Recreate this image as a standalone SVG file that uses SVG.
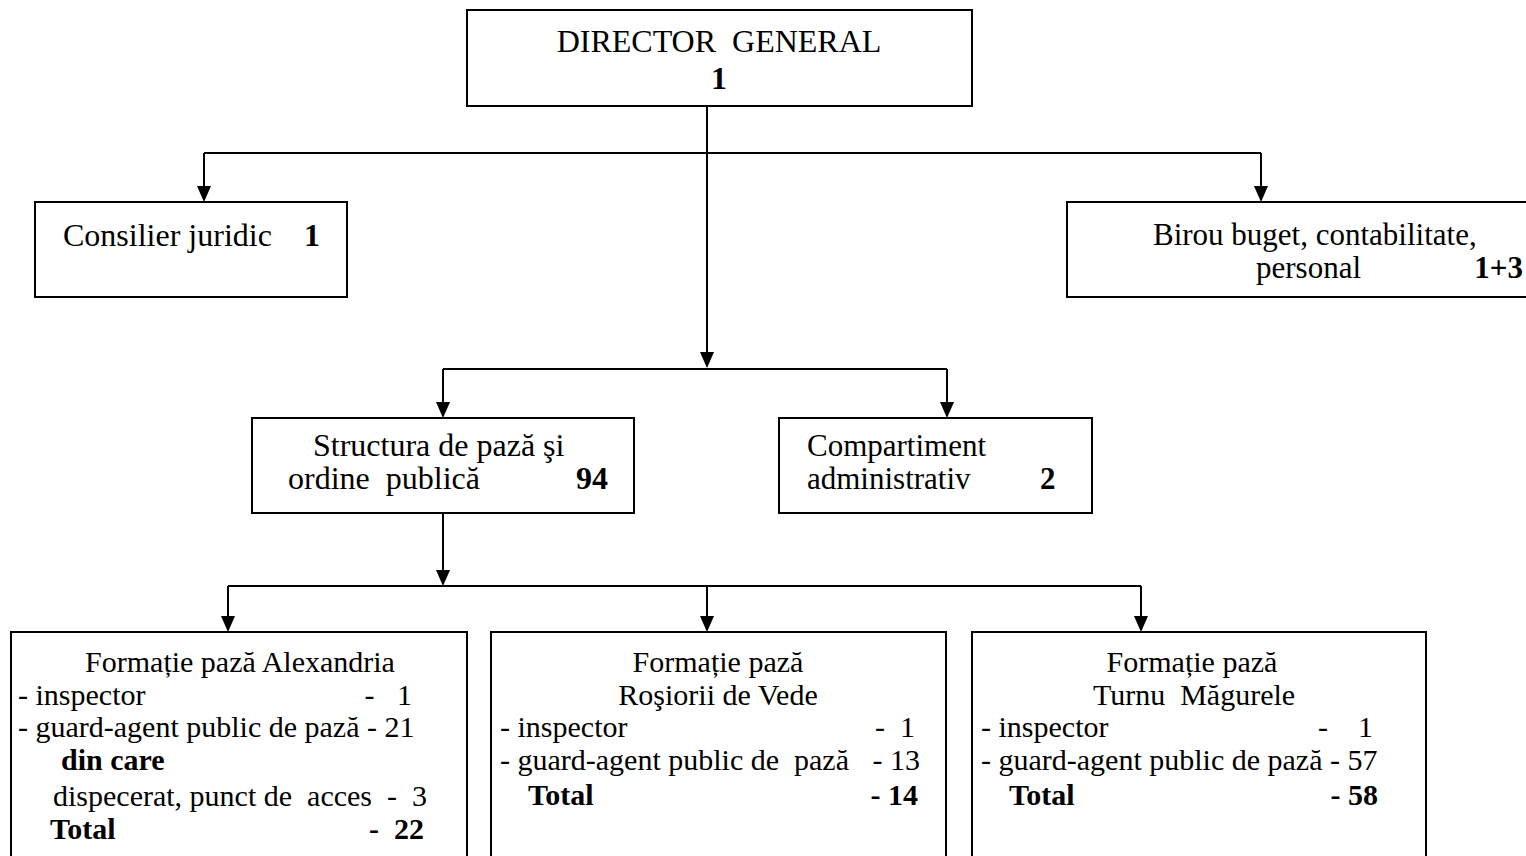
<svg xmlns="http://www.w3.org/2000/svg" width="1526" height="856" viewBox="0 0 1526 856">
<style>
.box{fill:#fff;stroke:#000;stroke-width:2}
.t{font-family:"Liberation Serif","Times New Roman",serif;font-size:30px;fill:#000}
.u{font-size:32px}
.b{font-weight:bold}
.c{text-anchor:middle}
.e{text-anchor:end}
.ln{fill:none;stroke:#000;stroke-width:2}
</style>
<rect width="1526" height="856" fill="#fff"/>
<g id="connectors">
<line class="ln" x1="707" y1="106" x2="707" y2="352"/>
<line class="ln" x1="204" y1="153" x2="1261" y2="153"/>
<line class="ln" x1="443" y1="369" x2="947" y2="369"/>
<line class="ln" x1="228" y1="586" x2="1141" y2="586"/>
<path class="ln" d="M204,153 V186"/>
<path class="ln" d="M1261,153 V186"/>
<path class="ln" d="M443,369 V402"/>
<path class="ln" d="M947,369 V402"/>
<path class="ln" d="M443,513 V570"/>
<path class="ln" d="M228,586 V616"/>
<path class="ln" d="M707,586 V616"/>
<path class="ln" d="M1141,586 V616"/>
<g fill="#000">
<path d="M700,352 L714,352 L707,368 Z"/>
<path d="M197,186 L211,186 L204,202 Z"/>
<path d="M1254,186 L1268,186 L1261,202 Z"/>
<path d="M436,402 L450,402 L443,418 Z"/>
<path d="M940,402 L954,402 L947,418 Z"/>
<path d="M436,570 L450,570 L443,586 Z"/>
<path d="M221,616 L235,616 L228,632 Z"/>
<path d="M700,616 L714,616 L707,632 Z"/>
<path d="M1134,616 L1148,616 L1141,632 Z"/>
</g>
</g>
<g id="director">
<rect class="box" x="467" y="10" width="505" height="96"/>
<text class="t u c" x="719" y="52" xml:space="preserve">DIRECTOR  GENERAL</text>
<text class="t u b c" x="719" y="89">1</text>
</g>
<g id="consilier">
<rect class="box" x="35" y="202" width="312" height="95"/>
<text class="t u" x="63" y="246">Consilier juridic</text>
<text class="t u b" x="304" y="246">1</text>
</g>
<g id="birou">
<rect class="box" x="1067" y="202" width="470" height="95"/>
<text class="t" style="font-size:31px" x="1153" y="245">Birou buget, contabilitate,</text>
<text class="t" style="font-size:31px" x="1256" y="278">personal</text>
<text class="t b e" style="font-size:31px" x="1523" y="278">1+3</text>
</g>
<g id="structura">
<rect class="box" x="252" y="418" width="382" height="95"/>
<text class="t u" x="313" y="456">Structura de pază şi</text>
<text class="t u" x="288" y="489" xml:space="preserve">ordine  publică</text>
<text class="t u b" x="576" y="489">94</text>
</g>
<g id="compartiment">
<rect class="box" x="779" y="418" width="313" height="95"/>
<text class="t" style="font-size:31px" x="807" y="456">Compartiment</text>
<text class="t" style="font-size:31px" x="807" y="489">administrativ</text>
<text class="t b" style="font-size:31px" x="1040" y="489">2</text>
</g>
<g id="alexandria">
<rect class="box" x="11" y="632" width="456" height="240"/>
<text class="t c" x="240" y="672">Formație pază Alexandria</text>
<text class="t" x="18" y="705">- inspector</text>
<text class="t e" x="412" y="705" xml:space="preserve">-   1</text>
<text class="t" x="18" y="737">- guard-agent public de pază - 21</text>
<text class="t b" x="61" y="770">din care</text>
<text class="t" x="53" y="806" xml:space="preserve">dispecerat, punct de  acces  -  3</text>
<text class="t b" x="50" y="839">Total</text>
<text class="t b e" x="424" y="839" xml:space="preserve">-  22</text>
</g>
<g id="rosiorii">
<rect class="box" x="491" y="632" width="455" height="240"/>
<text class="t c" x="718" y="672">Formație pază</text>
<text class="t c" x="718" y="705">Roşiorii de Vede</text>
<text class="t" x="500" y="737">- inspector</text>
<text class="t e" x="915" y="737" xml:space="preserve">-  1</text>
<text class="t" x="500" y="770" xml:space="preserve">- guard-agent public de  pază</text>
<text class="t e" x="920" y="770">- 13</text>
<text class="t b" x="528" y="805">Total</text>
<text class="t b e" x="918" y="805">- 14</text>
</g>
<g id="turnu">
<rect class="box" x="972" y="632" width="454" height="240"/>
<text class="t c" x="1192" y="672">Formație pază</text>
<text class="t c" x="1194" y="705" xml:space="preserve">Turnu  Măgurele</text>
<text class="t" x="981" y="737">- inspector</text>
<text class="t e" x="1373" y="737" xml:space="preserve">-    1</text>
<text class="t" x="981" y="770">- guard-agent public de pază - 57</text>
<text class="t b" x="1009" y="805">Total</text>
<text class="t b e" x="1378" y="805">- 58</text>
</g>
</svg>
